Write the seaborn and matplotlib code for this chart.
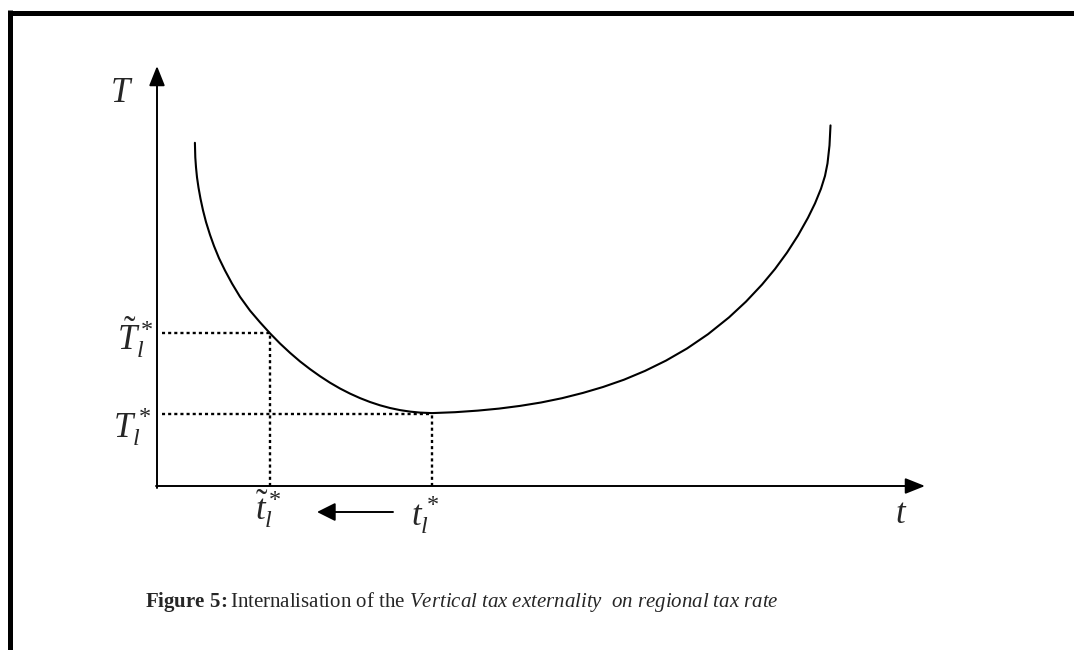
import numpy as np
import pandas as pd
import matplotlib
matplotlib.use("Agg")
import matplotlib.pyplot as plt
from matplotlib.lines import Line2D
import seaborn as sns

# Tax-revenue curve T(t) of the schematic (arbitrary units)
tax_rate = [0.379, 0.383, 0.390, 0.400, 0.415, 0.435, 0.460, 0.490, 0.530,
            0.570, 0.620, 0.680, 0.750, 0.830, 0.930, 1.030, 1.130, 1.230,
            1.330, 1.430, 1.530, 1.630, 1.730, 1.830, 1.930, 2.030, 2.130,
            2.230, 2.330, 2.430, 2.530, 2.630, 2.750,
            2.980, 3.210, 3.420, 3.630, 3.840, 4.050, 4.260, 4.460, 4.670,
            4.880, 5.090, 5.300, 5.510, 5.720, 5.890, 6.050, 6.180, 6.300,
            6.410, 6.510, 6.580, 6.640, 6.680, 6.705, 6.725, 6.735]
tax_revenue = [3.432, 3.286, 3.187, 3.087, 2.984, 2.873, 2.757, 2.640, 2.512,
               2.400, 2.278, 2.155, 2.025, 1.892, 1.754, 1.637, 1.527, 1.425,
               1.332, 1.246, 1.169, 1.098, 1.033, 0.975, 0.924, 0.879, 0.840,
               0.807, 0.780, 0.759, 0.744, 0.734, 0.729,
               0.738, 0.754, 0.774, 0.801, 0.835, 0.878, 0.931, 0.990, 1.063,
               1.151, 1.254, 1.375, 1.518, 1.686, 1.844, 2.014, 2.170, 2.334,
               2.505, 2.683, 2.826, 2.973, 3.101, 3.226, 3.406, 3.606]

# Equilibrium (t*, T*) and internalised (t~*, T~*) points
t_star, T_star = 2.75, 0.72
t_tilde, T_tilde = 1.13, 1.527

axis_t_max = 7.68
axis_T_max = 4.20

sns.set_theme(style="white")
plt.rcParams["font.family"] = ["Liberation Serif", "DejaVu Serif"]
plt.rcParams["mathtext.fontset"] = "custom"
plt.rcParams["mathtext.rm"] = "Liberation Serif"
plt.rcParams["mathtext.it"] = "Liberation Serif:italic"
plt.rcParams["mathtext.bf"] = "Liberation Serif:bold"

fig = plt.figure(figsize=(10.74, 6.5), dpi=100)
ax = fig.add_axes([0, 0, 1, 1])
ax.set_xlim(-1.57, 9.17)
ax.set_ylim(-1.64, 4.86)
ax.axis("off")

# Frame around the figure (left and top edges)
fig.add_artist(Line2D([9.5 / 1074, 1.0], [1 - 12.5 / 650] * 2, color="black",
                      lw=3.6, transform=fig.transFigure, solid_capstyle="butt"))
fig.add_artist(Line2D([9.5 / 1074] * 2, [0.0, 1 - 10 / 650], color="black",
                      lw=3.6, transform=fig.transFigure, solid_capstyle="butt"))

# Axes with arrow heads
arrow_kw = dict(arrowstyle="-|>,head_length=0.75,head_width=0.3", color="black",
                lw=1.4, shrinkA=0, shrinkB=0, mutation_scale=16)
ax.annotate("", xy=(0, axis_T_max), xytext=(0, -0.02), arrowprops=arrow_kw)
ax.annotate("", xy=(axis_t_max, 0), xytext=(-0.01, 0), arrowprops=arrow_kw)

# Revenue curve
curve = pd.DataFrame({"t": tax_rate, "T": tax_revenue})
sns.lineplot(data=curve, x="t", y="T", sort=False, estimator=None,
             color="black", lw=1.5, ax=ax)

# Dotted guide lines
dot = dict(color="black", lw=1.7, linestyle=(0, (1.3, 1.3)))
ax.plot([0.05, t_tilde], [T_tilde, T_tilde], **dot)
ax.plot([t_tilde, t_tilde], [0, T_tilde], **dot)
ax.plot([0.05, t_star], [T_star, T_star], **dot)
ax.plot([t_star, t_star], [0, T_star], **dot)

# Shift of the tax rate
ax.annotate("", xy=(1.60, -0.26), xytext=(2.36, -0.26),
            arrowprops=dict(arrowstyle="-|>,head_length=0.7,head_width=0.35",
                            color="black", lw=1.4, shrinkA=0, shrinkB=0,
                            mutation_scale=16))

# Labels
fs = 25
ax.text(-0.35, 3.93, "$T$", fontsize=fs, ha="center", va="center")
ax.text(7.44, -0.37, "$t$", fontsize=fs, ha="center", va="baseline")
ax.text(-0.04, 1.37, r"$\tilde{T}_l^*$", fontsize=fs, ha="right", va="baseline")
ax.text(-0.06, 0.48, r"$T_l^*$", fontsize=fs, ha="right", va="baseline")
ax.text(t_tilde - 0.02, -0.34, r"$\tilde{t}_l^*$", fontsize=fs, ha="center", va="baseline")
ax.text(t_star - 0.07, -0.39, r"$t_l^*$", fontsize=fs, ha="center", va="baseline")

# Caption
ax.text(-0.12, -1.21,
        r"$\mathbf{Figure\ 5\!:}$Internalisation of the "
        r"$\mathit{Vertical\ tax\ externality\ \ on\ regional\ tax\ rate}$",
        fontsize=15, ha="left", va="baseline")

fig.savefig("out.png", dpi=100)
